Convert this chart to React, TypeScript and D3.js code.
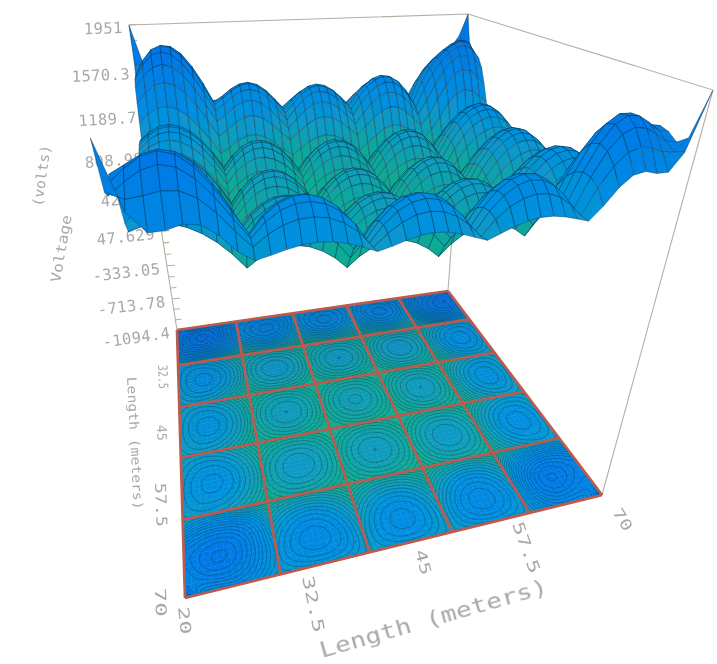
import React, { useMemo } from "react";
import * as d3 from "d3";

const voltTicks = ["-1094.4", "-713.78", "-333.05", "47.629", "428.3", "808.98", "1189.7", "1570.3", "1951"];
// Voltage on a 21 x 21 grid (row 0 = back edge, col 0 = left edge)
const voltage: number[][] = [
  [1951,1520,1640,1500,1280,1320,1360,1315,1180,1280,1320,1280,1180,1310,1360,1315,1180,1420,1560,1660,1951],
  [1560,1760,1790,1620,1300,1408,1460,1381,1200,1350,1412,1350,1200,1380,1460,1403,1220,1520,1660,1740,1640],
  [1560,1750,1750,1560,1260,1377,1430,1337,1140,1310,1380,1310,1140,1340,1430,1377,1180,1480,1660,1720,1600],
  [1400,1540,1530,1352,1080,1190,1240,1150,1000,1130,1190,1130,1000,1150,1240,1190,1050,1280,1500,1520,1400],
  [1130,1164,1120,998,800,900,920,860,720,840,880,840,720,860,920,900,800,998,1120,1164,1130],
  [1176,1275,1262,1136,900,1054,1093,1017,825,995,1052,995,825,1017,1093,1054,900,1142,1270,1281,1176],
  [1180,1302,1300,1172,920,1093,1140,1058,850,1037,1100,1037,850,1058,1140,1093,920,1180,1310,1310,1180],
  [1142,1244,1232,1103,860,1017,1058,984,795,965,1022,965,795,984,1058,1017,860,1109,1240,1250,1142],
  [1060,1102,1060,932,720,825,850,795,660,780,820,780,660,795,850,825,720,932,1060,1102,1060],
  [1105,1219,1210,1075,817,988,1037,962,765,941,1000,941,765,962,1037,988,817,1080,1217,1224,1105],
  [1120,1258,1260,1123,850,1043,1100,1018,800,995,1060,995,800,1018,1100,1043,850,1130,1270,1265,1120],
  [1105,1219,1210,1075,817,988,1037,962,765,941,1000,941,765,962,1037,988,817,1080,1217,1224,1105],
  [1060,1102,1060,932,720,825,850,795,660,780,820,780,660,795,850,825,720,932,1060,1102,1060],
  [1142,1244,1232,1103,860,1017,1058,984,795,965,1022,965,795,984,1058,1017,860,1109,1240,1250,1142],
  [1180,1302,1300,1172,920,1093,1140,1058,850,1037,1100,1037,850,1058,1140,1093,920,1180,1310,1310,1180],
  [1176,1275,1262,1136,900,1054,1093,1017,825,995,1052,995,825,1017,1093,1054,900,1142,1270,1281,1176],
  [1130,1164,1120,998,800,900,920,860,720,840,880,840,720,860,920,900,800,998,1120,1164,1130],
  [1400,1520,1520,1384,1037,1199,1233,1140,927,1116,1177,1116,930,1145,1233,1192,1021,1367,1520,1540,1420],
  [1620,1720,1720,1520,1180,1360,1400,1300,1060,1270,1340,1270,1060,1303,1400,1348,1150,1560,1740,1700,1640],
  [1560,1690,1690,1500,1227,1382,1418,1340,1117,1303,1367,1303,1110,1335,1418,1369,1186,1560,1700,1640,1580],
  [1951,1400,1430,1340,1170,1215,1240,1210,1140,1190,1220,1190,1130,1200,1240,1225,1180,1380,1470,1450,1951],
];
const colorStops = [650, 900, 1100, 1300, 1900];
const colorValues = ["#12b088", "#10a89a", "#0a9cc0", "#0490e0", "#0070e8"];

type P = [number, number];
const floorQuad: P[] = [[177, 330], [448, 291], [602, 495], [185, 598]];
const topQuad: P[] = [[129, 25], [468, 14], [713, 90], [90, 137]];
const A = 1.25;

function homography(q: P[]) {
  const [[x0, y0], [x1, y1], [x2, y2], [x3, y3]] = q;
  const dx1 = x1 - x2, dx2 = x3 - x2, sx = x0 - x1 + x2 - x3;
  const dy1 = y1 - y2, dy2 = y3 - y2, sy = y0 - y1 + y2 - y3;
  const den = dx1 * dy2 - dx2 * dy1;
  const g = (sx * dy2 - dx2 * sy) / den;
  const h = (dx1 * sy - sx * dy1) / den;
  const a = x1 - x0 + g * x1, b = x3 - x0 + h * x3, d = y1 - y0 + g * y1, e = y3 - y0 + h * y3;
  return (u: number, v: number): P => {
    const w = g * u + h * v + 1;
    return [(a * u + b * v + x0) / w, (d * u + e * v + y0) / w];
  };
}
const floorH = homography(floorQuad);
const topH = homography(topQuad);
const zScale = d3.scaleLinear().domain([-1094.4, 1951]).range([0, 1]);
const color = d3.scaleLinear<string>().domain(colorStops).range(colorValues).clamp(true);

function project(u: number, v: number, val: number): P {
  const w = zScale(val);
  const f = w / ((1 - w) * A + w);
  const b = floorH(u, v), t = topH(u, v);
  return [b[0] + (t[0] - b[0]) * f, b[1] + (t[1] - b[1]) * f];
}

// smooth drawing curve through the five read values of a dome, keeping the sharp crease between domes
function lag(s: number): number[] {
  const out: number[] = [];
  for (let i = 0; i < 5; i++) {
    let p = 1;
    for (let j = 0; j < 5; j++) if (j !== i) p *= (s * 4 - j) / (i - j);
    out.push(p);
  }
  return out;
}
function sample(u: number, v: number): number {
  const cu = Math.min(4, Math.floor(u * 5)), cv = Math.min(4, Math.floor(v * 5));
  const lu = lag(u * 5 - cu), lv = lag(v * 5 - cv);
  let s = 0;
  for (let i = 0; i < 5; i++) for (let j = 0; j < 5; j++) s += lv[i] * lu[j] * voltage[cv * 4 + i][cu * 4 + j];
  return s;
}

const poly = (pts: P[]) => "M" + pts.map((p) => p[0].toFixed(1) + "," + p[1].toFixed(1)).join("L") + "Z";
const lineGen = d3.line<P>();
const GREY = "#b4b0a4";
const TXT = "#a8a8a8";

function Label({ x, y, rot, len, size, children }: any) {
  return (
    <text transform={`translate(${x},${y}) rotate(${rot})`} textLength={len} lengthAdjust="spacingAndGlyphs"
      fontFamily="'DejaVu Sans Mono', monospace" fontSize={size} fill={TXT}>{children}</text>
  );
}

export default function App() {
  const floor = useMemo(() => {
    const N = 70;
    const cells: { d: string; c: string }[] = [];
    for (let i = 0; i < N; i++) for (let j = 0; j < N; j++) {
      const u0 = j / N, u1 = (j + 1) / N, v0 = i / N, v1 = (i + 1) / N;
      const val = sample((u0 + u1) / 2, (v0 + v1) / 2);
      const c = d3.interpolateRgb(color(val), "#0a3a80")(0.3 * Math.pow(1 - v0, 3));
      cells.push({ d: poly([floorH(u0, v0), floorH(u1, v0), floorH(u1, v1), floorH(u0, v1)]), c });
    }
    const M = 120;
    const vals: number[] = [];
    for (let i = 0; i <= M; i++) for (let j = 0; j <= M; j++) vals.push(sample(j / M, i / M));
    const cs = d3.contours().size([M + 1, M + 1]).thresholds(d3.range(800, 1900, 50))(vals);
    const path = d3.geoPath(d3.geoTransform({
      point(this: any, x: number, y: number) {
        const uu = Math.max(0, Math.min(1, (x - 0.5) / M)), vv = Math.max(0, Math.min(1, (y - 0.5) / M));
        const p = floorH(uu, vv);
        this.stream.point(p[0], p[1]);
      },
    }));
    return { cells, contours: cs.map((c) => path(c as any) || "") };
  }, []);

  const surface = useMemo(() => {
    const N = 40;
    const quads: { d: string; c: string; k: number }[] = [];
    const eps = 1e-4;
    for (let i = 0; i < N; i++) for (let j = 0; j < N; j++) {
      const u0 = j / N + eps, u1 = (j + 1) / N - eps, v0 = i / N + eps, v1 = (i + 1) / N - eps;
      const um = (u0 + u1) / 2, vm = (v0 + v1) / 2;
      const pts: P[] = [[u0, v0], [u1, v0], [u1, v1], [u0, v1]].map(([u, v]) => project(u, v, sample(u, v)));
      quads.push({ d: poly(pts), c: color(sample(um, vm)), k: Math.hypot(um - 0.42, vm - 2.6) });
    }
    quads.sort((a, b) => b.k - a.k);
    return quads;
  }, []);

  const grid: P[][] = [];
  for (const t of d3.range(0, 6)) {
    grid.push([floorH(t / 5, 0), floorH(t / 5, 1)]);
    grid.push([floorH(0, t / 5), floorH(1, t / 5)]);
  }
  const bl = (w: number) => project(0, 0, zScale.invert(w));
  const ticks = d3.range(0, 25).map((i) => i / 24);

  return (
    <svg width={717} height={664} style={{ position: "fixed", left: 0, top: 0, background: "#fff" }}>
      <defs>
        <filter id="soft" x="0" y="0" width="100%" height="100%" filterUnits="userSpaceOnUse">
          <feGaussianBlur stdDeviation="0.55" />
        </filter>
      </defs>
      <g filter="url(#soft)">
        <g stroke={GREY} strokeWidth={1.1} fill="none">
          <path d={lineGen([floorQuad[0], topQuad[0], topQuad[1], topQuad[2], floorQuad[2]]) || ""} />
          <path d={lineGen([topQuad[1], floorQuad[1]]) || ""} />
          {ticks.map((w, i) => {
            const p = bl(w);
            return <path key={i} d={lineGen([p, [p[0] + (i % 3 === 0 ? 8 : 6), p[1] - 0.5]]) || ""} />;
          })}
        </g>
        {voltTicks.map((t, i) => {
          const w = i / 8;
          const p = bl(w);
          return (
            <text key={t} transform={`translate(${p[0] - 6},${p[1] + 8}) rotate(${-8 + 6 * w})`} textAnchor="end"
              fontFamily="'DejaVu Sans Mono', monospace" fontSize={15.5} letterSpacing={0.4} fill={TXT}>{t}</text>
          );
        })}
        <Label x={60} y={283} rot={-80} len={68} size={14}>Voltage</Label>
        <Label x={42} y={207} rot={-82} len={62} size={14}>(volts)</Label>
        <Label x={158} y={365} rot={88} len={24} size={13}>32.5</Label>
        <Label x={157} y={425} rot={88} len={16} size={13}>45</Label>
        <Label x={155} y={483} rot={88} len={44} size={15}>57.5</Label>
        <Label x={155} y={588} rot={88} len={29} size={15}>70</Label>
        <Label x={127} y={377} rot={87} len={133} size={13}>Length (meters)</Label>
        <Label x={178} y={607} rot={84} len={28} size={15}>20</Label>
        <Label x={302} y={577} rot={78} len={58} size={16}>32.5</Label>
        <Label x={415} y={551} rot={75} len={26} size={15}>45</Label>
        <Label x={512} y={524} rot={70} len={54} size={16}>57.5</Label>
        <Label x={612} y={512} rot={58} len={24} size={15}>70</Label>
        <Label x={322} y={658} rot={-16} len={236} size={21}>Length (meters)</Label>

        {floor.cells.map((c, i) => <path key={i} d={c.d} fill={c.c} stroke={c.c} strokeWidth={0.5} />)}
        <g fill="none" stroke="#063a50" strokeOpacity={0.7} strokeWidth={0.55}>
          {floor.contours.map((d, i) => <path key={i} d={d} />)}
        </g>
        <g stroke="#bd5a4e" strokeWidth={2.7} fill="none">
          {grid.map((g, i) => <path key={i} d={lineGen(g) || ""} />)}
        </g>
        {surface.map((q, i) => (
          <path key={i} d={q.d} fill={q.c} stroke="#08304f" strokeOpacity={0.75} strokeWidth={0.55} strokeLinejoin="round" />
        ))}
      </g>
    </svg>
  );
}
